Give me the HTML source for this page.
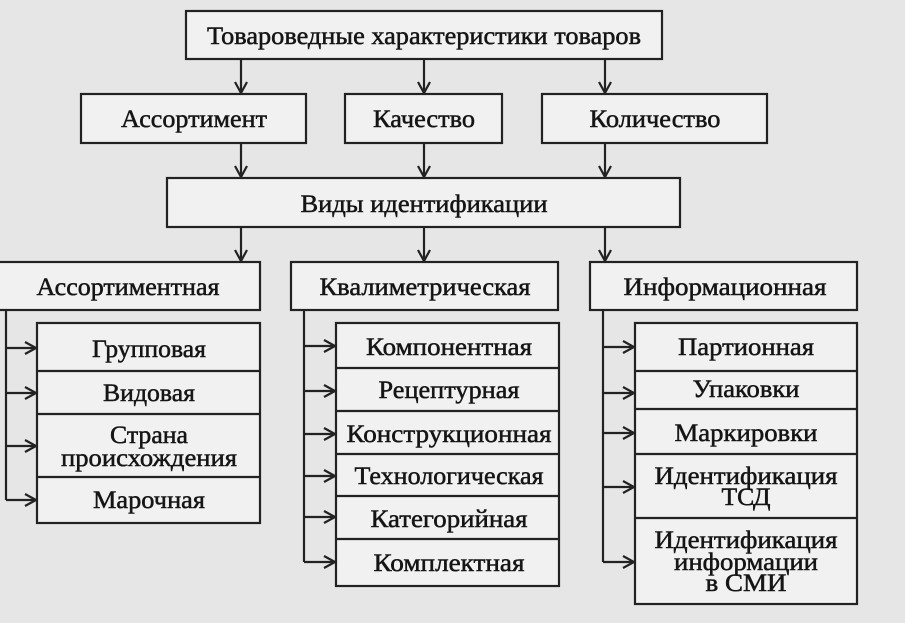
<!DOCTYPE html>
<html><head><meta charset="utf-8"><style>
html,body{margin:0;padding:0;background:#e6e6e6;}
svg{display:block}
text{font-family:"Liberation Serif",serif;font-size:25px;fill:#151515;stroke:#151515;stroke-width:0.5;text-anchor:middle}
</style></head><body>
<svg width="905" height="623" viewBox="0 0 905 623" xmlns="http://www.w3.org/2000/svg">
<rect width="905" height="623" fill="#e6e6e6"/>
<g fill="#f1f1f1" stroke="#222" stroke-width="2.2">
<rect x="186" y="11" width="476" height="48"/>
<rect x="81" y="94" width="225" height="49"/>
<rect x="345" y="94" width="157" height="49"/>
<rect x="542" y="94" width="225" height="49"/>
<rect x="167" y="178" width="513" height="49"/>
<rect x="-2" y="262" width="262" height="48"/>
<rect x="291" y="262" width="267" height="48"/>
<rect x="590" y="262" width="267" height="48"/>
<rect x="37" y="323" width="223" height="200"/>
<rect x="336" y="323" width="223" height="263"/>
<rect x="635" y="323" width="222" height="281"/>
</g>
<g stroke="#222" stroke-width="2.2" fill="none">
<path d="M37 371H260M37 414H260M37 477H260"/>
<path d="M336 368H559M336 411H559M336 454H559M336 496H559M336 539H559"/>
<path d="M635 371H857M635 409H857M635 454H857M635 518H857"/>
<path d="M241 59V94M424 59V94M605 59V94M241 143V178M424 143V178M605 143V178M241 227V262M424 227V262M605 227V262"/>
<g>
<path d="M235 82L241 93L247 82M418 82L424 93L430 82M599 82L605 93L611 82"/>
<path d="M235 166L241 177L247 166M418 166L424 177L430 166M599 166L605 177L611 166"/>
<path d="M235 250L241 261L247 250M418 250L424 261L430 250M599 250L605 261L611 250"/>
</g>
<path d="M6 310V500M6 348H36M6 393H36M6 446H36M6 500H36"/>
<path d="M25 342L36 348L25 354M25 387L36 393L25 399M25 440L36 446L25 452M25 494L36 500L25 506"/>
<path d="M304 310V562M304 346H335M304 391H335M304 434H335M304 476H335M304 517H335M304 562H335"/>
<path d="M324 340L335 346L324 352M324 385L335 391L324 397M324 428L335 434L324 440M324 470L335 476L324 482M324 511L335 517L324 523M324 556L335 562L324 568"/>
<path d="M603 310V562M603 347H634M603 393H634M603 433H634M603 487H634M603 562H634"/>
<path d="M623 341L634 347L623 353M623 387L634 393L623 399M623 427L634 433L623 439M623 481L634 487L623 493M623 556L634 562L623 568"/>
</g>
<g>
<text x="424" y="44" textLength="434" lengthAdjust="spacingAndGlyphs">Товароведные характеристики товаров</text>
<text x="194" y="127" textLength="146" lengthAdjust="spacingAndGlyphs">Ассортимент</text>
<text x="424" y="127" textLength="102" lengthAdjust="spacingAndGlyphs">Качество</text>
<text x="655" y="127" textLength="131" lengthAdjust="spacingAndGlyphs">Количество</text>
<text x="424" y="212" textLength="247" lengthAdjust="spacingAndGlyphs">Виды идентификации</text>
<text x="128" y="295" textLength="183" lengthAdjust="spacingAndGlyphs">Ассортиментная</text>
<text x="425" y="295" textLength="211" lengthAdjust="spacingAndGlyphs">Квалиметрическая</text>
<text x="725" y="295" textLength="203" lengthAdjust="spacingAndGlyphs">Информационная</text>
<text x="149" y="357" textLength="114" lengthAdjust="spacingAndGlyphs">Групповая</text>
<text x="149" y="401" textLength="92" lengthAdjust="spacingAndGlyphs">Видовая</text>
<text x="149" y="443" textLength="78" lengthAdjust="spacingAndGlyphs">Страна</text>
<text x="149" y="466" textLength="176" lengthAdjust="spacingAndGlyphs">происхождения</text>
<text x="149" y="508" textLength="112" lengthAdjust="spacingAndGlyphs">Марочная</text>
<text x="449" y="355" textLength="166" lengthAdjust="spacingAndGlyphs">Компонентная</text>
<text x="449" y="398" textLength="141" lengthAdjust="spacingAndGlyphs">Рецептурная</text>
<text x="449" y="442" textLength="205" lengthAdjust="spacingAndGlyphs">Конструкционная</text>
<text x="449" y="484" textLength="189" lengthAdjust="spacingAndGlyphs">Технологическая</text>
<text x="449" y="527" textLength="157" lengthAdjust="spacingAndGlyphs">Категорийная</text>
<text x="449" y="571" textLength="151" lengthAdjust="spacingAndGlyphs">Комплектная</text>
<text x="746" y="355" textLength="136" lengthAdjust="spacingAndGlyphs">Партионная</text>
<text x="746" y="397" textLength="107" lengthAdjust="spacingAndGlyphs">Упаковки</text>
<text x="746" y="441" textLength="143" lengthAdjust="spacingAndGlyphs">Маркировки</text>
<text x="746" y="484" textLength="183" lengthAdjust="spacingAndGlyphs">Идентификация</text>
<text x="746" y="505" textLength="49" lengthAdjust="spacingAndGlyphs">ТСД</text>
<text x="746" y="548" textLength="183" lengthAdjust="spacingAndGlyphs">Идентификация</text>
<text x="746" y="570" textLength="144" lengthAdjust="spacingAndGlyphs">информации</text>
<text x="746" y="591" textLength="81" lengthAdjust="spacingAndGlyphs">в СМИ</text>
</g>
</svg>
</body></html>
